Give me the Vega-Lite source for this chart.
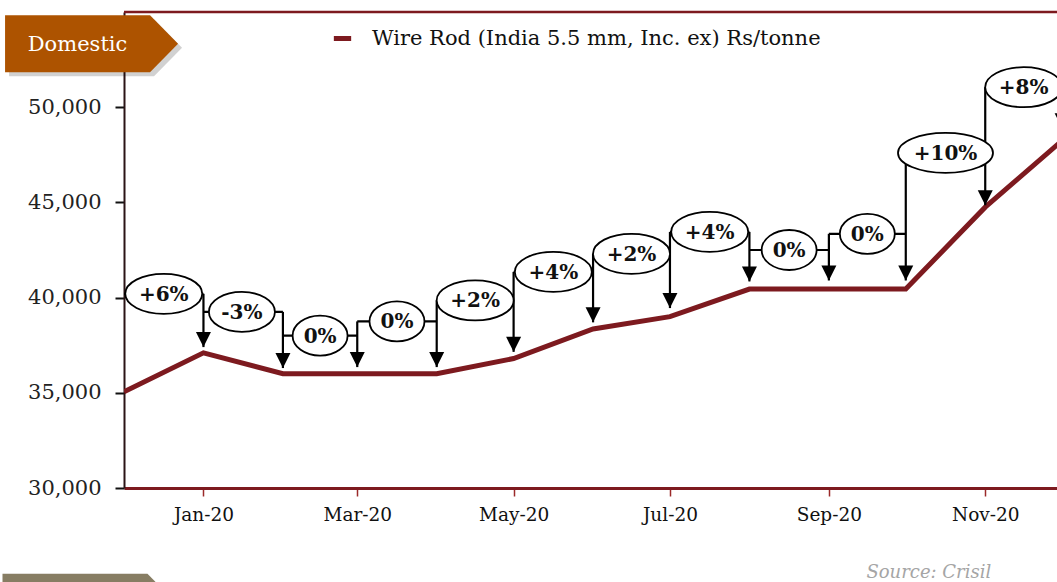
{
  "$schema": "https://vega.github.io/schema/vega-lite/v6.json",
  "width": 933,
  "height": 476,
  "autosize": {"type": "none"},
  "padding": {"left": 124, "top": 12, "right": 0, "bottom": 94},
  "background": "white",
  "config": {"view": {"stroke": null}},
  "datasets": {
    "series": [
      {"month": "2019-12-01", "value": 35050},
      {"month": "2020-01-01", "value": 37100},
      {"month": "2020-02-01", "value": 36000},
      {"month": "2020-03-01", "value": 36000},
      {"month": "2020-04-01", "value": 36000},
      {"month": "2020-05-01", "value": 36800},
      {"month": "2020-06-01", "value": 38350},
      {"month": "2020-07-01", "value": 39000},
      {"month": "2020-08-01", "value": 40450},
      {"month": "2020-09-01", "value": 40450},
      {"month": "2020-10-01", "value": 40450},
      {"month": "2020-11-01", "value": 44750},
      {"month": "2020-12-01", "value": 48250}
    ],
    "notes": [
      {"label": "+6%", "prev": "2019-12-01", "mid": "2019-12-16T12:00:00Z", "month": "2020-01-01", "level": 40200, "top": 40200, "tip": 37400},
      {"label": "-3%", "prev": "2020-01-01", "mid": "2020-01-16T00:00:00Z", "month": "2020-02-01", "level": 39250, "top": 39250, "tip": 36300},
      {"label": "0%", "prev": "2020-02-01", "mid": "2020-02-15T12:00:00Z", "month": "2020-03-01", "level": 38000, "top": 38750, "tip": 36350},
      {"label": "0%", "prev": "2020-03-01", "mid": "2020-03-16T12:00:00Z", "month": "2020-04-01", "level": 38750, "top": 39850, "tip": 36350},
      {"label": "+2%", "prev": "2020-04-01", "mid": "2020-04-16T00:00:00Z", "month": "2020-05-01", "level": 39850, "top": 41350, "tip": 37150},
      {"label": "+4%", "prev": "2020-05-01", "mid": "2020-05-16T12:00:00Z", "month": "2020-06-01", "level": 41350, "top": 42300, "tip": 38700},
      {"label": "+2%", "prev": "2020-06-01", "mid": "2020-06-16T00:00:00Z", "month": "2020-07-01", "level": 42300, "top": 43450, "tip": 39450},
      {"label": "+4%", "prev": "2020-07-01", "mid": "2020-07-16T12:00:00Z", "month": "2020-08-01", "level": 43450, "top": 43450, "tip": 40850},
      {"label": "0%", "prev": "2020-08-01", "mid": "2020-08-16T12:00:00Z", "month": "2020-09-01", "level": 42500, "top": 43350, "tip": 40900},
      {"label": "0%", "prev": "2020-09-01", "mid": "2020-09-16T00:00:00Z", "month": "2020-10-01", "level": 43350, "top": 47600, "tip": 40900},
      {"label": "+10%", "prev": "2020-10-01", "mid": "2020-10-16T12:00:00Z", "month": "2020-11-01", "level": 47600, "top": 51050, "tip": 44850},
      {"label": "+8%", "prev": "2020-11-01", "mid": "2020-11-16T00:00:00Z", "month": "2020-12-01", "level": 51050, "top": 51050, "tip": 48900}
    ]
  },
  "layer": [
    {
      "data": {"name": "series"},
      "mark": {"type": "line", "strokeWidth": 5, "clip": true, "strokeJoin": "miter"},
      "encoding": {
        "x": {
          "field": "month", "type": "temporal",
          "scale": {"type": "utc", "domain": [{"year": 2019, "month": 12, "date": 1, "utc": true}, {"year": 2020, "month": 11, "date": 29, "utc": true}]},
          "axis": {
            "title": null, "grid": false,
            "values": [
              {"year": 2020, "month": 1, "date": 1, "utc": true},
              {"year": 2020, "month": 3, "date": 1, "utc": true},
              {"year": 2020, "month": 5, "date": 1, "utc": true},
              {"year": 2020, "month": 7, "date": 1, "utc": true},
              {"year": 2020, "month": 9, "date": 1, "utc": true},
              {"year": 2020, "month": 11, "date": 1, "utc": true}
            ],
            "format": "%b-%y",
            "labelFont": "DejaVu Serif", "labelFontSize": 18.5, "labelColor": "#111",
            "domainColor": "#7D1A1F", "domainWidth": 3,
            "tickColor": "#9B2A2A", "tickSize": 8, "tickWidth": 1.5,
            "labelPadding": 9
          }
        },
        "y": {
          "field": "value", "type": "quantitative",
          "scale": {"domain": [30000, 55000], "nice": false, "zero": false},
          "axis": {
            "title": null, "grid": false,
            "values": [30000, 35000, 40000, 45000, 50000],
            "format": ",.0f",
            "labelFont": "DejaVu Serif", "labelFontSize": 21, "labelColor": "#222",
            "domainColor": "#2b1416", "domainWidth": 2,
            "tickColor": "#111", "tickSize": 9, "tickWidth": 2,
            "labelPadding": 14
          }
        },
        "color": {
          "datum": "Wire Rod (India 5.5 mm, Inc. ex) Rs/tonne",
          "scale": {"range": ["#7D1A1F"]},
          "legend": {
            "title": null, "orient": "none", "legendX": 207, "legendY": 15,
            "padding": 0, "symbolType": "stroke", "symbolStrokeWidth": 5, "symbolSize": 300,
            "labelFont": "DejaVu Serif", "labelFontSize": 21, "labelColor": "#111", "labelOffset": 18, "labelLimit": 0
          }
        }
      }
    },
    {
      "data": {"values": [{"y": 55000}]},
      "mark": {"type": "rule", "color": "#7D1A1F", "strokeWidth": 2.5},
      "encoding": {"y": {"field": "y", "type": "quantitative"}}
    },
    {
      "data": {"name": "notes"},
      "mark": {"type": "rule", "color": "black", "strokeWidth": 2.2},
      "encoding": {
        "x": {"field": "prev", "type": "temporal"},
        "x2": {"field": "month"},
        "y": {"field": "level", "type": "quantitative"}
      }
    },
    {
      "data": {"name": "notes"},
      "mark": {"type": "rule", "color": "black", "strokeWidth": 2.2},
      "encoding": {
        "x": {"field": "month", "type": "temporal"},
        "y": {"field": "top", "type": "quantitative"},
        "y2": {"field": "tip"}
      }
    },
    {
      "data": {"name": "notes"},
      "mark": {"type": "point", "shape": "M -7.5 -15 L 7.5 -15 L 0 0 Z", "size": 4, "filled": true, "color": "black", "opacity": 1},
      "encoding": {
        "x": {"field": "month", "type": "temporal"},
        "y": {"field": "tip", "type": "quantitative"}
      }
    },
    {
      "data": {"name": "notes"},
      "mark": {"type": "point", "size": 4, "filled": false, "fill": "white", "fillOpacity": 1, "stroke": "black", "strokeWidth": 1.8, "opacity": 1},
      "encoding": {
        "x": {"field": "mid", "type": "temporal"},
        "y": {"field": "level", "type": "quantitative"},
        "shape": {
          "field": "label", "type": "nominal", "legend": null,
          "scale": {
            "domain": ["0%", "-3%", "+2%", "+4%", "+6%", "+8%", "+10%"],
            "range": [
              "M 27.5 0 C 27.5 11.05 15.19 20 0 20 C -15.19 20 -27.5 11.05 -27.5 0 C -27.5 -11.05 -15.19 -20 0 -20 C 15.19 -20 27.5 -11.05 27.5 0 Z",
              "M 33 0 C 33 11.05 18.23 20 0 20 C -18.23 20 -33 11.05 -33 0 C -33 -11.05 -18.23 -20 0 -20 C 18.23 -20 33 -11.05 33 0 Z",
              "M 38.5 0 C 38.5 11.05 21.26 20 0 20 C -21.26 20 -38.5 11.05 -38.5 0 C -38.5 -11.05 -21.26 -20 0 -20 C 21.26 -20 38.5 -11.05 38.5 0 Z",
              "M 38.5 0 C 38.5 11.05 21.26 20 0 20 C -21.26 20 -38.5 11.05 -38.5 0 C -38.5 -11.05 -21.26 -20 0 -20 C 21.26 -20 38.5 -11.05 38.5 0 Z",
              "M 38.5 0 C 38.5 11.05 21.26 20 0 20 C -21.26 20 -38.5 11.05 -38.5 0 C -38.5 -11.05 -21.26 -20 0 -20 C 21.26 -20 38.5 -11.05 38.5 0 Z",
              "M 38.5 0 C 38.5 11.05 21.26 20 0 20 C -21.26 20 -38.5 11.05 -38.5 0 C -38.5 -11.05 -21.26 -20 0 -20 C 21.26 -20 38.5 -11.05 38.5 0 Z",
              "M 47.5 0 C 47.5 11.05 26.23 20 0 20 C -26.23 20 -47.5 11.05 -47.5 0 C -47.5 -11.05 -26.23 -20 0 -20 C 26.23 -20 47.5 -11.05 47.5 0 Z"
            ]
          }
        }
      }
    },
    {
      "data": {"name": "notes"},
      "mark": {"type": "text", "font": "DejaVu Serif", "fontWeight": "bold", "fontSize": 20, "color": "#111", "align": "center", "baseline": "middle", "dy": 1},
      "encoding": {
        "x": {"field": "mid", "type": "temporal"},
        "y": {"field": "level", "type": "quantitative"},
        "text": {"field": "label"}
      }
    },
    {
      "data": {"values": [{"x": "2019-11-18T08:00:00Z", "y": 53330}]},
      "mark": {"type": "point", "shape": "M -86.5 -28.5 L 58.5 -28.5 L 86.5 0 L 58.5 28.5 L -86.5 28.5 Z", "size": 4, "filled": true, "color": "#000000", "opacity": 0.18, "xOffset": 4, "yOffset": 4},
      "encoding": {
        "x": {"field": "x", "type": "temporal"},
        "y": {"field": "y", "type": "quantitative"}
      }
    },
    {
      "data": {"values": [{"x": "2019-11-18T08:00:00Z", "y": 53330}]},
      "mark": {"type": "point", "shape": "M -86.5 -28.5 L 58.5 -28.5 L 86.5 0 L 58.5 28.5 L -86.5 28.5 Z", "size": 4, "filled": true, "color": "#AD5300", "opacity": 1},
      "encoding": {
        "x": {"field": "x", "type": "temporal"},
        "y": {"field": "y", "type": "quantitative"}
      }
    },
    {
      "data": {"values": [{"x": "2019-11-18T08:00:00Z", "y": 53330, "label": "Domestic"}]},
      "mark": {"type": "text", "font": "DejaVu Serif", "fontSize": 21, "color": "white", "align": "center", "baseline": "middle", "dx": -14, "dy": 1},
      "encoding": {
        "x": {"field": "x", "type": "temporal"},
        "y": {"field": "y", "type": "quantitative"},
        "text": {"field": "label"}
      }
    },
    {
      "data": {"values": [{"x": "2019-11-17T08:00:00Z", "y": 24000}]},
      "mark": {"type": "point", "shape": "M -86.5 -28.5 L 58.5 -28.5 L 86.5 0 L 58.5 28.5 L -86.5 28.5 Z", "size": 4, "filled": true, "color": "#877D63", "opacity": 1},
      "encoding": {
        "x": {"field": "x", "type": "temporal"},
        "y": {"field": "y", "type": "quantitative"}
      }
    },
    {
      "data": {"values": [{"x": "2020-10-10T00:00:00Z", "y": 25550, "label": "Source: Crisil"}]},
      "mark": {"type": "text", "font": "DejaVu Serif", "fontStyle": "italic", "fontSize": 18, "color": "#A5A5A5", "align": "center", "baseline": "middle"},
      "encoding": {
        "x": {"field": "x", "type": "temporal"},
        "y": {"field": "y", "type": "quantitative"},
        "text": {"field": "label"}
      }
    }
  ]
}
